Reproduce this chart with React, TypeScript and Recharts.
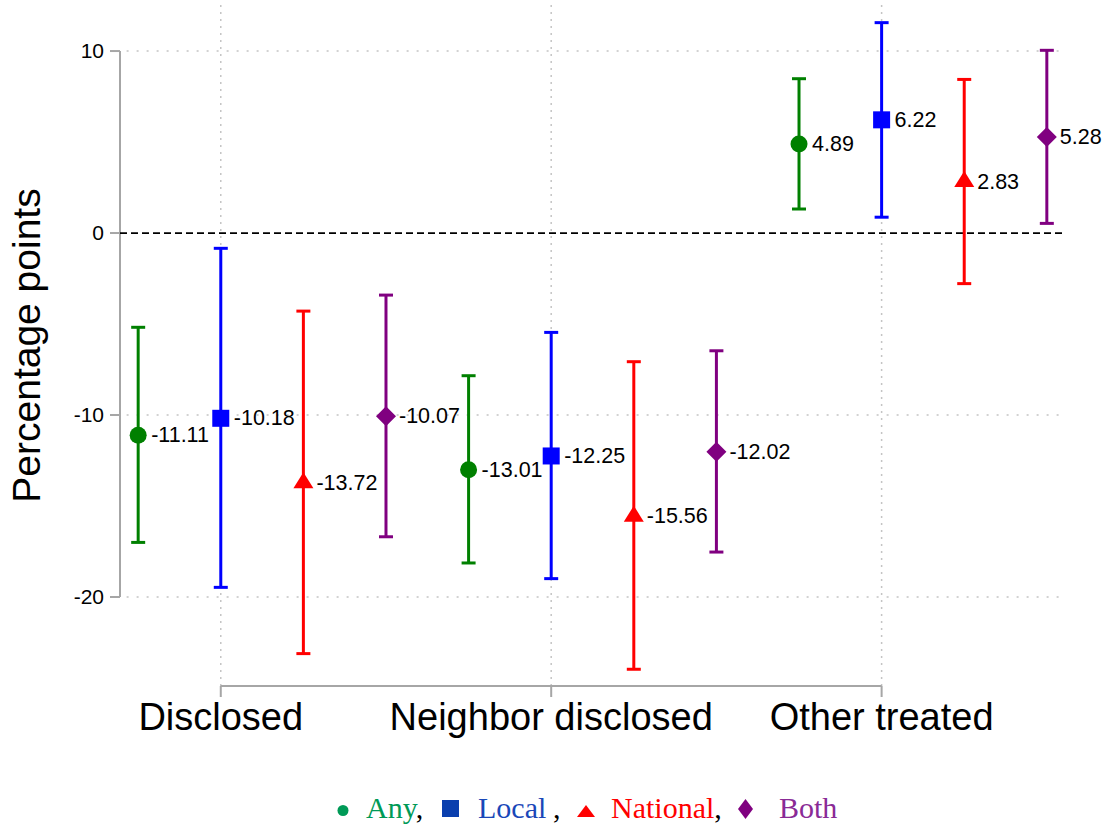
import {
  ScatterChart,
  Scatter,
  ErrorBar,
  XAxis,
  YAxis,
  ReferenceLine,
} from "recharts";

// groups on the x axis
const groups = ["Disclosed", "Neighbor disclosed", "Other treated"];
const groupTicks = [2, 6, 10];
const yTicks = [-20, -10, 0, 10];

// point estimates and 95% CI bounds, one entry per group
const anyEst = [-11.11, -13.01, 4.89];
const anyLo = [-17.0, -18.13, 1.32];
const anyHi = [-5.18, -7.84, 8.48];

const localEst = [-10.18, -12.25, 6.22];
const localLo = [-19.47, -18.99, 0.87];
const localHi = [-0.84, -5.46, 11.56];

const nationalEst = [-13.72, -15.56, 2.83];
const nationalLo = [-23.11, -23.97, -2.78];
const nationalHi = [-4.29, -7.07, 8.44];

const bothEst = [-10.07, -12.02, 5.28];
const bothLo = [-16.69, -17.53, 0.53];
const bothHi = [-3.41, -6.47, 10.04];

const X_DOMAIN: [number, number] = [0.78, 12.22];
const Y_DOMAIN: [number, number] = [-24.89, 12.53];

const GREEN = "#008000";
const BLUE = "#0000ff";
const RED = "#ff0000";
const PURPLE = "#800080";
const AXIS_GRAY = "#a6a6a6";
const GRID_GRAY = "#c4c4c4";

const rows = (est: number[], lo: number[], hi: number[], slot: number) =>
  est.map((v, g) => ({ x: g * 4 + slot, y: v, err: [v - lo[g], hi[g] - v] }));

const anyRows = rows(anyEst, anyLo, anyHi, 1);
const localRows = rows(localEst, localLo, localHi, 2);
const nationalRows = rows(nationalEst, nationalLo, nationalHi, 3);
const bothRows = rows(bothEst, bothLo, bothHi, 4);

type Kind = "circle" | "square" | "triangle" | "diamond";

const marker = (kind: Kind, color: string) => (props: any) => {
  const { cx, cy, payload } = props;
  let mark;
  if (kind === "circle") {
    mark = <circle cx={cx} cy={cy} r={8.5} fill={color} />;
  } else if (kind === "square") {
    mark = <rect x={cx - 8.5} y={cy - 8.5} width={17} height={17} fill={color} />;
  } else if (kind === "triangle") {
    mark = (
      <path
        d={`M${cx},${cy - 10.5} L${cx + 10},${cy + 5.5} L${cx - 10},${cy + 5.5} Z`}
        fill={color}
      />
    );
  } else {
    mark = (
      <path
        d={`M${cx},${cy - 10} L${cx + 10},${cy} L${cx},${cy + 10} L${cx - 10},${cy} Z`}
        fill={color}
      />
    );
  }
  return (
    <g>
      {mark}
      <text
        x={cx + 13}
        y={cy}
        dominantBaseline="central"
        fontSize={21.5}
        fill="#000"
      >
        {payload.y.toFixed(2)}
      </text>
    </g>
  );
};

function YTitle(props: any) {
  const { viewBox } = props;
  const x = viewBox.x + 40;
  const y = viewBox.y + viewBox.height / 2;
  return (
    <text
      x={x}
      y={y}
      transform={`rotate(-90 ${x} ${y})`}
      textAnchor="middle"
      fontSize={39}
      fill="#000"
    >
      Percentage points
    </text>
  );
}

function CaptionLegend() {
  return (
    <svg
      width={1107}
      height={40}
      style={{ position: "absolute", left: 0, top: 790 }}
      fontFamily="'Liberation Serif', 'Times New Roman', serif"
      fontSize={30}
    >
      <circle cx={343} cy={20.5} r={5.5} fill="#009a57" />
      <text x={366} y={28}>
        <tspan fill="#009a57">Any</tspan>
        <tspan fill="#000">,</tspan>
      </text>
      <rect x={442} y={10} width={17} height={17} fill="#0a3fae" />
      <text x={478} y={28} fill="#1a47b8">
        Local
      </text>
      <text x={553} y={28} fill="#000">
        ,
      </text>
      <path d="M586,15 L595,27 L577,27 Z" fill={RED} />
      <text x={611} y={28}>
        <tspan fill={RED}>National</tspan>
        <tspan fill="#000">,</tspan>
      </text>
      <path d="M745.5,9 L753,19 L745.5,29 L738,19 Z" fill={PURPLE} />
      <text x={779} y={28} fill="#8a2a96">
        Both
      </text>
    </svg>
  );
}

export default function App() {
  return (
    <div
      style={{
        position: "absolute",
        left: 0,
        top: 0,
        width: 1107,
        height: 827,
        background: "#fff",
        fontFamily: "'Liberation Sans', Arial, sans-serif",
      }}
    >
      <ScatterChart
        width={1107}
        height={760}
        margin={{ top: 5, right: 42, bottom: 14, left: 0 }}
      >
        <XAxis
          type="number"
          dataKey="x"
          domain={X_DOMAIN}
          ticks={groupTicks}
          interval={0}
          tickFormatter={(v: number) => groups[(v - 2) / 4]}
          axisLine={false}
          tickLine={{ stroke: AXIS_GRAY, strokeWidth: 2 }}
          tickSize={11}
          tickMargin={6}
          tick={{ fontSize: 38, fill: "#000" }}
          height={60}
        />
        <YAxis
          type="number"
          dataKey="y"
          domain={Y_DOMAIN}
          ticks={yTicks}
          interval={0}
          axisLine={false}
          tickLine={{ stroke: AXIS_GRAY, strokeWidth: 2 }}
          tickSize={10}
          tickMargin={6}
          tick={{ fontSize: 21, fill: "#000" }}
          width={120}
          label={{ content: YTitle }}
        />
        {/* dotted grid at the tick positions */}
        {groupTicks.map((t) => (
          <ReferenceLine
            key={`vx${t}`}
            x={t}
            stroke={GRID_GRAY}
            strokeWidth={1.5}
            strokeDasharray="2 5"
          />
        ))}
        {yTicks
          .filter((t) => t !== 0)
          .map((t) => (
            <ReferenceLine
              key={`hy${t}`}
              segment={[
                { x: X_DOMAIN[0] + 0.08, y: t },
                { x: X_DOMAIN[1] - 0.06, y: t },
              ]}
              stroke={GRID_GRAY}
              strokeWidth={1.5}
              strokeDasharray="2 8"
            />
          ))}
        <ReferenceLine
          segment={[
            { x: X_DOMAIN[0], y: yTicks[yTicks.length - 1] },
            { x: X_DOMAIN[0], y: yTicks[0] },
          ]}
          stroke={AXIS_GRAY}
          strokeWidth={2}
          ifOverflow="visible"
        />
        <ReferenceLine
          segment={[
            { x: groupTicks[0], y: Y_DOMAIN[0] },
            { x: groupTicks[groupTicks.length - 1], y: Y_DOMAIN[0] },
          ]}
          stroke={AXIS_GRAY}
          strokeWidth={2}
          ifOverflow="visible"
        />
        <ReferenceLine y={0} stroke="#000" strokeWidth={1.8} strokeDasharray="7 4" />
        <Scatter data={anyRows} shape={marker("circle", GREEN)} isAnimationActive={false}>
          <ErrorBar dataKey="err" direction="y" width={7} strokeWidth={3} stroke={GREEN} />
        </Scatter>
        <Scatter data={localRows} shape={marker("square", BLUE)} isAnimationActive={false}>
          <ErrorBar dataKey="err" direction="y" width={7} strokeWidth={3} stroke={BLUE} />
        </Scatter>
        <Scatter data={nationalRows} shape={marker("triangle", RED)} isAnimationActive={false}>
          <ErrorBar dataKey="err" direction="y" width={7} strokeWidth={3} stroke={RED} />
        </Scatter>
        <Scatter data={bothRows} shape={marker("diamond", PURPLE)} isAnimationActive={false}>
          <ErrorBar dataKey="err" direction="y" width={7} strokeWidth={3} stroke={PURPLE} />
        </Scatter>
      </ScatterChart>
      <CaptionLegend />
    </div>
  );
}
